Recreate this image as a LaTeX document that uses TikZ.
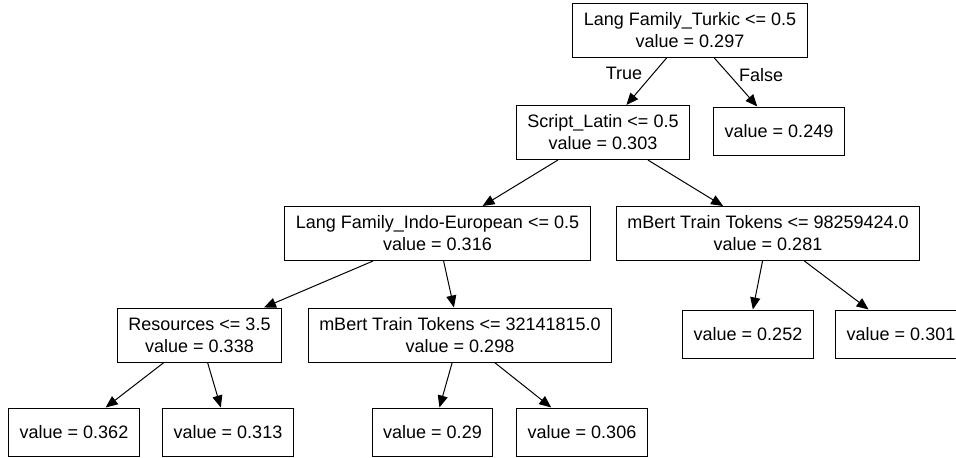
\documentclass[tikz,border=0pt]{standalone}
\usepackage{fontspec}
\setmainfont{Liberation Sans}
\usetikzlibrary{arrows.meta}

\begin{document}
\begin{tikzpicture}[x=0.75pt,y=-0.75pt]
    \tikzstyle{every node}+=[font=\fontsize{13.5}{16.5}\selectfont]
    \tikzstyle{leaf}=[draw=black, line width=0.75pt, inner xsep=8.25pt, minimum height=36pt, align=center]
    \tikzstyle{split}=[leaf, minimum height=40.5pt]
    \tikzstyle{edge}=[draw=black, line width=0.75pt, -{Triangle[length=9pt,width=7.5pt]}]
    \useasboundingbox (0,0) rectangle (956,457);
    \clip (0,0) rectangle (956,457);
    % splits
    \node [split] (root) at (690,30.5) {Lang Family\_Turkic <= 0.5\\value = 0.297};
    \node [split] (slat) at (603,132.5) {Script\_Latin <= 0.5\\value = 0.303};
    \node [split] (indo) at (437.5,233.5) {Lang Family\_Indo-European <= 0.5\\value = 0.316};
    \node [split] (mbb) at (768,233.5) {mBert Train Tokens <= 98259424.0\\value = 0.281};
    \node [split] (res) at (199.5,335) {Resources <= 3.5\\value = 0.338};
    \node [split] (mba) at (460,335) {mBert Train Tokens <= 32141815.0\\value = 0.298};
    % leaves
    \node [leaf] (v249) at (779,131) {value = 0.249};
    \node [leaf] (v252) at (748,334) {value = 0.252};
    \node [leaf] (v301) at (901,334) {value = 0.301};
    \node [leaf] (v362) at (74,432) {value = 0.362};
    \node [leaf] (v313) at (228,432) {value = 0.313};
    \node [leaf] (v29) at (432.5,432) {value = 0.29};
    \node [leaf] (v306) at (582,432) {value = 0.306};
    % edges
    \draw [edge] (root) -- (slat);
    \draw [edge] (root) -- (v249);
    \draw [edge] (slat) -- (indo);
    \draw [edge] (slat) -- (mbb);
    \draw [edge] (indo) -- (res);
    \draw [edge] (indo) -- (mba);
    \draw [edge] (mbb) -- (v252);
    \draw [edge] (mbb) -- (v301);
    \draw [edge] (res) -- (v362);
    \draw [edge] (res) -- (v313);
    \draw [edge] (mba) -- (v29);
    \draw [edge] (mba) -- (v306);
    \node (lbltrue) at (624,73) {True};
    \node (lblfalse) at (761,75) {False};
\end{tikzpicture}
\end{document}
